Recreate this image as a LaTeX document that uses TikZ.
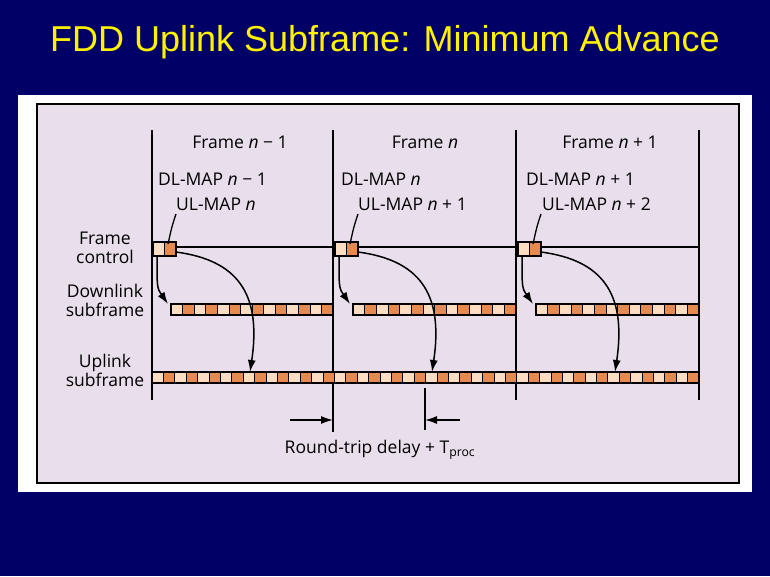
\documentclass[tikz,border=0pt]{standalone}
\usepackage{fontspec}
\setmainfont{Open Sans}
\newfontfamily\arialf{Liberation Sans}
\usetikzlibrary{arrows.meta,calc}
\definecolor{navy}{HTML}{000066}
\definecolor{lav}{HTML}{E9DFEC}
\definecolor{lt}{HTML}{FDDDC2}
\definecolor{dk}{HTML}{E58A50}
\begin{document}
\begin{tikzpicture}[x=1pt,y=-1pt,
  lbl/.style={font=\fontsize{17.5}{19}\selectfont,inner sep=0pt},
  side/.style={lbl,align=center},
  ln/.style={line width=1.6pt},
  arr/.style={line width=1.5pt,-{Latex[length=12pt,width=8pt]}},
  cellL/.style={fill=lt,draw=black,line width=0.7pt},
  cellD/.style={fill=dk,draw=black,line width=0.7pt}]
\fill[navy] (0,0) rectangle (770,576);
\useasboundingbox (0,0) rectangle (770,576);
\node[text=yellow,font=\arialf\fontsize{36}{40}\selectfont] (title) at (385,42) {FDD Uplink Subframe: Minimum Advance};
\fill[white] (18,95) rectangle (752,492);
\draw[fill=lav,line width=1.5pt] (37,104) rectangle (739,483);
% verticals
\draw[ln] (152,130) -- (152,400);
\draw[ln] (333,130) -- (333,432);
\draw[ln] (516,130) -- (516,400);
\draw[ln] (699,130) -- (699,400);
\draw[ln] (152,247) -- (699,247);
% labels
\node[lbl] (f1) at (240,142) {Frame \textit{n} − 1};
\node[lbl] (f2) at (425,142) {Frame \textit{n}};
\node[lbl] (f3) at (610,142) {Frame \textit{n} + 1};
\node[side] (fc) at (105,248) {Frame\\control};
\node[side] (dl) at (105,300) {Downlink\\subframe};
\node[side] (ul) at (105,370) {Uplink\\subframe};
\node[lbl,anchor=west] (d1) at (158,179) {DL-MAP \textit{n} − 1};
\node[lbl,anchor=west] (u1) at (176,204) {UL-MAP \textit{n}};
\node[lbl,anchor=west] (d2) at (341,179) {DL-MAP \textit{n}};
\node[lbl,anchor=west] (u2) at (358,204) {UL-MAP \textit{n} + 1};
\node[lbl,anchor=west] (d3) at (526,179) {DL-MAP \textit{n} + 1};
\node[lbl,anchor=west] (u3) at (542,204) {UL-MAP \textit{n} + 2};
% uplink bar
\foreach \i in {0,...,47}{
  \pgfmathsetmacro\xa{152+547/48*\i}
  \pgfmathsetmacro\xb{152+547/48*(\i+1)}
  \ifodd\i \draw[cellD] (\xa,372) rectangle (\xb,383); \else \draw[cellL] (\xa,372) rectangle (\xb,383); \fi}
\draw[line width=1.4pt] (152,372) rectangle (699,383);
% frames
\foreach \s/\e [count=\c] in {152/333,334/516,517/699}{
  \pgfmathsetmacro\ds{\s+19}
  \pgfmathsetmacro\w{(\e-\ds)/14}
  \foreach \i in {0,...,13}{
    \pgfmathsetmacro\xa{\ds+\w*\i}
    \pgfmathsetmacro\xb{\ds+\w*(\i+1)}
    \ifodd\i \draw[cellD] (\xa,304) rectangle (\xb,315); \else \draw[cellL] (\xa,304) rectangle (\xb,315); \fi}
  \draw[line width=1.4pt] (\ds,304) rectangle (\e,315);
  \draw[cellL] (\s+1,242) rectangle (\s+12.5,256);
  \draw[cellD] (\s+12.5,242) rectangle (\s+24,256);
  \draw[line width=1.4pt] (\s+1,242) rectangle (\s+24,256);
  \coordinate (fa\c) at (\s+5,256);
  \coordinate (fb\c) at (\s+24,252);
  \coordinate (dt\c) at (\s+16,304);
  \coordinate (ut\c) at (\s+98,372);
  \coordinate (lt\c) at (\s+24,214);
  \coordinate (le\c) at (\s+16,244);
}
\foreach \c in {1,2,3}{
  \draw[line width=1.3pt] (lt\c) .. controls ($(lt\c)+(-4,12)$) .. (le\c);
  \draw[arr] (fa\c) .. controls ($(fa\c)+(0,32)$) .. (dt\c);
  \draw[arr] (fb\c) .. controls ($(fb\c)+(60,8)$) and ($(ut\c)+(12,-80)$) .. (ut\c);
}
% round trip
\coordinate (ra) at (290,420); \coordinate (rb) at (333,420);
\coordinate (rc) at (460,420); \coordinate (rd) at (425,420);
\draw[line width=1.4pt] (425,388) -- (425,430);
\draw[arr] (ra) -- (rb);
\draw[arr] (rc) -- (rd);
\node[lbl] (rt) at (380,450) {Round-trip delay + T\textsubscript{proc}};
\end{tikzpicture}
\end{document}
